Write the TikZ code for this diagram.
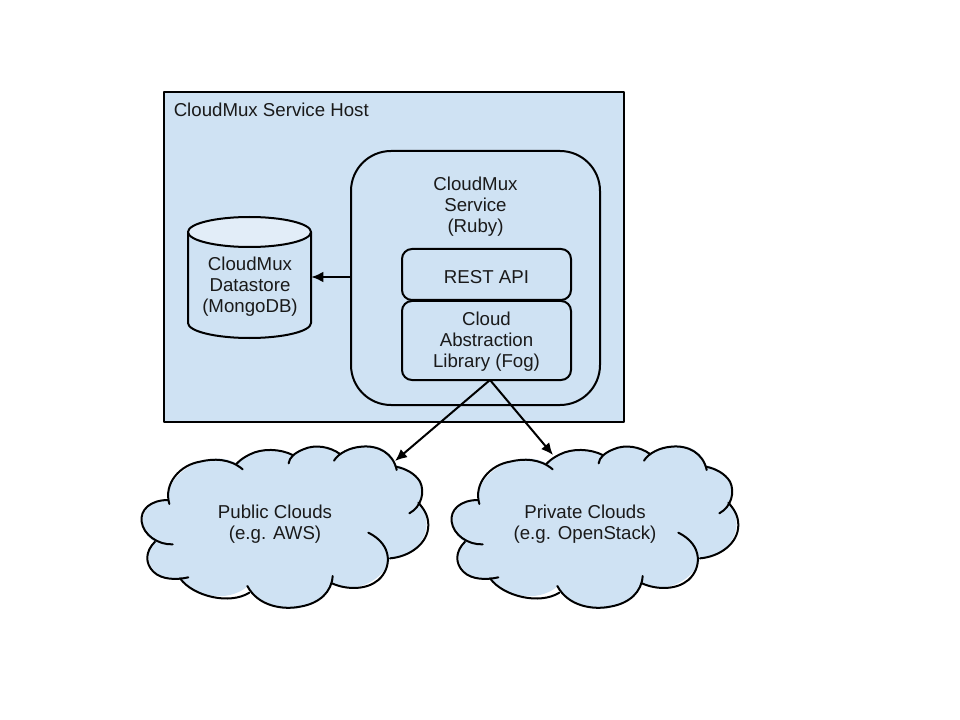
\documentclass[tikz,border=0pt]{standalone}
\usepackage{fontspec}
\setmainfont{Liberation Sans}
\usetikzlibrary{arrows.meta}
\definecolor{paleblue}{HTML}{CFE2F3}
\definecolor{paletop}{HTML}{E2EDF8}
\definecolor{inktext}{HTML}{1A1A1A}
\newcommand{\cloudshape}{%
  \fill[paleblue] (320,130) .. controls (360,90) and (440,80) .. (490,105)
    .. controls (530,70) and (590,75) .. (630,100)
    .. controls (690,60) and (780,70) .. (797,135)
    .. controls (860,150) and (900,200) .. (865,250)
    .. controls (910,290) and (900,400) .. (780,415)
    .. controls (770,470) and (680,530) .. (608,490)
    .. controls (560,590) and (410,590) .. (352,500)
    .. controls (290,550) and (190,530) .. (150,475)
    .. controls (80,490) and (25,420) .. (75,365)
    .. controls (20,340) and (20,240) .. (115,240)
    .. controls (100,170) and (230,80) .. (320,130) -- cycle;
  \draw[ink] (338,148) .. controls (300,115) and (250,115) .. (210,125)
     .. controls (150,135) and (100,190) .. (118,252);
  \draw[ink] (115,240) .. controls (60,240) and (30,270) .. (35,305)
     .. controls (40,345) and (85,375) .. (128,373);
  \draw[ink] (75,365) .. controls (45,395) and (45,430) .. (70,455)
     .. controls (95,480) and (140,480) .. (175,472);
  \draw[ink] (150,475) .. controls (190,530) and (300,555) .. (358,518);
  \draw[ink] (352,498) .. controls (385,560) and (460,570) .. (510,560)
     .. controls (570,550) and (605,515) .. (608,468);
  \draw[ink] (606,490) .. controls (650,510) and (710,510) .. (745,480)
     .. controls (785,445) and (790,375) .. (715,338);
  \draw[ink] (780,415) .. controls (840,410) and (895,370) .. (895,315)
     .. controls (895,285) and (880,265) .. (865,248);
  \draw[ink] (838,280) .. controls (875,260) and (885,215) .. (870,185)
     .. controls (855,160) and (825,145) .. (797,140);
  \draw[ink] (800,150) .. controls (790,100) and (745,75) .. (695,80)
     .. controls (660,82) and (625,100) .. (612,122);
  \draw[ink] (630,102) .. controls (600,80) and (555,72) .. (520,88)
     .. controls (495,98) and (478,112) .. (476,130);
  \draw[ink] (490,106) .. controls (450,85) and (395,85) .. (360,103)
     .. controls (345,110) and (330,120) .. (320,131);
}
\tikzset{
  ink/.style={draw=black,line width=1.5pt,line cap=round,line join=round},
  txt/.style={text=inktext,align=center,inner sep=0pt,font=\fontsize{14}{15.75}\selectfont},
  boxed/.style={ink,fill=paleblue,inner sep=0pt,minimum width=126.75pt},
  conn/.style={draw=black,line width=1.5pt,-{Latex[length=9pt,width=8pt]}}
}
\begin{document}
\begin{tikzpicture}[x=0.75pt,y=-0.75pt]
\useasboundingbox (0,0) rectangle (960,720);
\fill[white] (0,0) rectangle (960,720);
% host
\node[ink,fill=paleblue,minimum width=345pt,minimum height=247.5pt,inner sep=0pt] (host) at (394,257) {};
\node[txt,anchor=base west] (hostlabel) at (173.5,117) {CloudMux Service Host};
% service
\node[ink,fill=paleblue,rounded corners=30pt,minimum width=186.75pt,minimum height=190.5pt,inner sep=0pt] (service) at (475.5,278) {};
\node[txt] (servicelabel) at (475.5,207) {CloudMux\\Service\\(Ruby)};
\node[boxed,rounded corners=7.5pt,minimum height=38.25pt] (rest) at (486.5,274.5) {};
\node[txt] (restlabel) at (486.5,277) {REST API};
\node[boxed,rounded corners=7.5pt,minimum height=59.25pt] (lib) at (486.5,340.5) {};
\node[txt] (liblabel) at (486.5,342) {Cloud\\Abstraction\\Library (Fog)};
% datastore
\fill[paleblue] (188,232) -- (188,323) arc[start angle=180,end angle=0,x radius=61.5,y radius=15] -- (311,232) -- cycle;
\draw[ink] (188,232) -- (188,323) arc[start angle=180,end angle=0,x radius=61.5,y radius=15] -- (311,232);
\draw[ink,fill=paletop] (249.5,232) ellipse[x radius=61.5,y radius=15];
\node[inner sep=0pt,minimum width=92.25pt,minimum height=60pt] (store) at (249.5,277) {};
\node[txt] (storelabel) at (250,287) {CloudMux\\Datastore\\(MongoDB)};
% clouds
\begin{scope}[shift={(130,420)},x=.25pt,y=-.25pt]
\cloudshape
\end{scope}
\begin{scope}[shift={(440,420)},x=.25pt,y=-.25pt]
\cloudshape
\end{scope}
\node[txt] (public) at (275,524) {Public Clouds\\(e.g. AWS)};
\node[txt] (private) at (585,524) {Private Clouds\\(e.g. OpenStack)};
\coordinate (publictop) at (395,461);
\coordinate (privatetop) at (553,455);
\coordinate (libout) at (490,380);
% connectors
\draw[conn] (service.west |- store.east) -- (store.east);
\draw[conn] (libout) -- (publictop);
\draw[conn] (libout) -- (privatetop);
\end{tikzpicture}
\end{document}
